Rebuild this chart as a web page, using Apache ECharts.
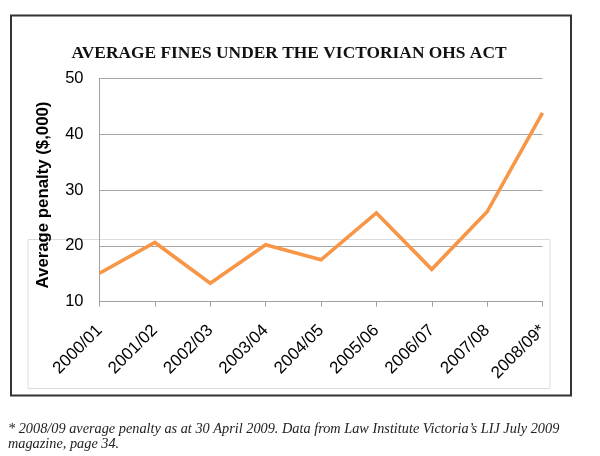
<!DOCTYPE html>
<html>
<head>
<meta charset="utf-8">
<script src="https://cdn.jsdelivr.net/npm/echarts@6/dist/echarts.min.js"></script>
<style>
html,body{margin:0;padding:0;background:#fff;}
#chart{width:600px;height:456px;}
</style>
</head>
<body>
<div id="chart"></div>
<script>
const categories = ['2000/01','2001/02','2002/03','2003/04','2004/05','2005/06','2006/07','2007/08','2008/09*'];
const averagePenalty = [15.1, 20.6, 13.3, 20.2, 17.5, 25.9, 15.8, 26.1, 43.8];
const yTicks = [10, 20, 30, 40, 50];
const titleText = 'AVERAGE FINES UNDER THE VICTORIAN OHS ACT';
const yAxisName = 'Average penalty ($,000)';
const footnoteLines = [
  '* 2008/09 average penalty as at 30 April 2009. Data from Law Institute Victoria\u2019s LIJ July 2009',
  'magazine, page 34.'
];

const chart = echarts.init(document.getElementById('chart'), null, {renderer: 'canvas'});
chart.setOption({
  animation: false,
  backgroundColor: '#ffffff',
  grid: {left: 99.5, right: 57.5, top: 78.3, bottom: 154.3, containLabel: false},
  xAxis: {
    type: 'category',
    data: categories,
    boundaryGap: false,
    axisLine: {show: true, lineStyle: {color: '#a0a0a0', width: 1}},
    axisTick: {show: true, alignWithLabel: true, length: 5, lineStyle: {color: '#a0a0a0'}},
    axisLabel: {
      rotate: 45, margin: 26, interval: 0,
      fontFamily: 'Liberation Sans, Arial, sans-serif', fontSize: 17, color: '#000'
    },
    splitLine: {show: false}
  },
  yAxis: {
    type: 'value',
    min: yTicks[0], max: yTicks[yTicks.length - 1], interval: 10,
    name: yAxisName,
    nameLocation: 'middle',
    nameGap: 48,
    nameRotate: 90,
    nameTextStyle: {fontFamily: 'Liberation Sans, Arial, sans-serif', fontSize: 16.8, fontWeight: 'bold', color: '#000',
                    padding: [0, 10, 0, 0]},
    axisLine: {show: true, lineStyle: {color: '#a0a0a0', width: 1}},
    axisTick: {show: false},
    axisLabel: {margin: 16, fontFamily: 'Liberation Sans, Arial, sans-serif', fontSize: 16.5, color: '#000'},
    splitLine: {show: true, lineStyle: {color: '#a6a6a6', width: 1}}
  },
  series: [{
    type: 'line',
    data: averagePenalty,
    symbol: 'none',
    lineStyle: {color: '#f79646', width: 3.6, join: 'miter'},
    z: 5
  }],
  graphic: [
    {type: 'rect', z: -10, silent: true,
     shape: {x: 28, y: 239.5, width: 522, height: 149},
     style: {fill: null, stroke: '#dcdcdc', lineWidth: 1}},
    {type: 'rect', z: 10, silent: true,
     shape: {x: 11, y: 15.5, width: 560, height: 380},
     style: {fill: null, stroke: '#333333', lineWidth: 2}},
    {type: 'text', z: 10, silent: true, x: 289, y: 45.5,
     style: {text: titleText, fontFamily: 'Liberation Serif, Times New Roman, serif', fontSize: 17.4, fontWeight: 'bold',
             fill: '#111', align: 'center', verticalAlign: 'alphabetic'}},
    {type: 'text', z: 10, silent: true, x: 8, y: 422,
     style: {text: footnoteLines[0], fontFamily: 'Liberation Serif, Times New Roman, serif', fontSize: 14.3, fontStyle: 'italic',
             fill: '#222', align: 'left', verticalAlign: 'alphabetic'}},
    {type: 'text', z: 10, silent: true, x: 8, y: 437.5,
     style: {text: footnoteLines[1], fontFamily: 'Liberation Serif, Times New Roman, serif', fontSize: 14.3, fontStyle: 'italic',
             fill: '#222', align: 'left', verticalAlign: 'alphabetic'}}
  ]
});
</script>
</body>
</html>
